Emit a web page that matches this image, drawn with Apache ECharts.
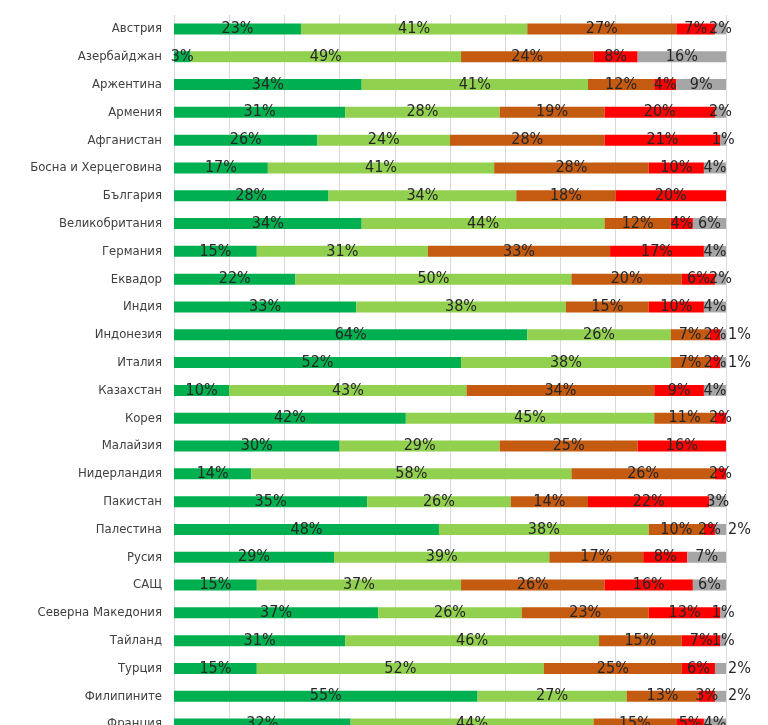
<!DOCTYPE html>
<html>
<head>
<meta charset="utf-8">
<script src="https://cdn.jsdelivr.net/npm/echarts@6/dist/echarts.min.js"></script>
<style>
html,body{margin:0;padding:0;background:#fff;overflow:hidden;}
#chart{width:768px;height:760px;}
</style>
</head>
<body>
<div id="chart"></div>
<script>
const categories = ['Австрия','Азербайджан','Аржентина','Армения','Афганистан','Босна и Херцеговина','България','Великобритания','Германия','Еквадор','Индия','Индонезия','Италия','Казахстан','Корея','Малайзия','Нидерландия','Пакистан','Палестина','Русия','САЩ','Северна Македония','Тайланд','Турция','Филипините','Франция'];
const series1 = [23,3,34,31,26,17,28,34,15,22,33,64,52,10,42,30,14,35,48,29,15,37,31,15,55,32];
const series2 = [41,49,41,28,24,41,34,44,31,50,38,26,38,43,45,29,58,26,38,39,37,26,46,52,27,44];
const series3 = [27,24,12,19,28,28,18,12,33,20,15,7,7,34,11,25,26,14,10,17,26,23,15,25,13,15];
const series4 = [7,8,4,20,21,10,20,4,17,6,10,2,2,9,2,16,2,22,2,8,16,13,7,6,3,5];
const series5 = [2,16,9,2,1,4,0,6,4,2,4,1,1,4,0,0,0,3,2,7,6,1,1,2,2,4];
const seriesNames = ['1','2','3','4','5'];

const colors = ['#00B050','#92D050','#C55A11','#FF0000','#A6A6A6'];
const font = "'Liberation Sans Narrow','DejaVu Sans Condensed','Arial Narrow',sans-serif";
// labels of the last series placed outside the bar end
const outsideRight = {'Индонезия':[0,2],'Италия':[0,3],'Палестина':[0,1],'Турция':[0,8],'Филипините':[0,7]};

function buildData(vals, outside) {
  return vals.map((v, i) => {
    const c = categories[i];
    if (outside && outsideRight[c]) {
      return {value: v, label: {position: 'right', distance: 2, offset: outsideRight[c]}};
    }
    return v;
  });
}

const all = [series1, series2, series3, series4, series5];
const chart = echarts.init(document.getElementById('chart'), null, {renderer: 'canvas'});
chart.setOption({
  animation: false,
  backgroundColor: '#ffffff',
  grid: {left: 174, right: 42, top: 15, height: 723, containLabel: false},
  xAxis: {
    type: 'value', min: 0, max: 100, interval: 10,
    axisLabel: {show: false}, axisLine: {show: false}, axisTick: {show: false},
    splitLine: {show: true, lineStyle: {color: '#D9D9D9', width: 1}}
  },
  yAxis: {
    type: 'category', data: categories, inverse: true,
    axisLine: {show: false}, axisTick: {show: false},
    axisLabel: {color: '#404040', fontSize: 13, fontFamily: font, margin: 12}
  },
  series: all.map((vals, k) => ({
    name: seriesNames[k],
    type: 'bar',
    stack: 'total',
    barWidth: 11,
    data: buildData(vals, k === 4),
    itemStyle: {color: colors[k]},
    label: {
      show: true,
      position: 'inside',
      formatter: p => (p.value > 0 ? p.value + '%' : ''),
      color: '#262626',
      fontSize: 16,
      fontFamily: font,
      offset: [0, 2],
      overflow: 'none'
    },
    labelLayout: {hideOverlap: false}
  }))
});
</script>
</body>
</html>
